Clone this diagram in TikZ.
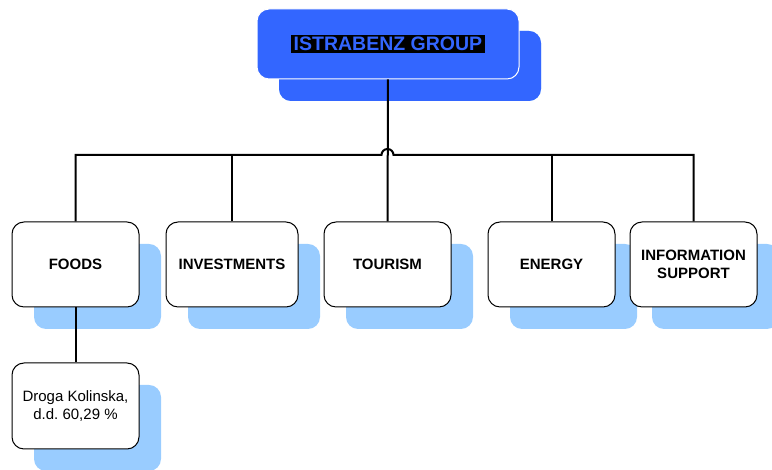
\documentclass[tikz,border=0pt]{standalone}
\usepackage{fontspec}
\setmainfont{Liberation Sans}
\usetikzlibrary{shadows}
\definecolor{groupblue}{HTML}{3366FF}
\definecolor{shadeblue}{HTML}{99CCFF}
\frenchspacing
\begin{document}
\begin{tikzpicture}
    [x=1pt,y=1pt,
     unit/.style={rectangle,rounded corners=12pt,draw=black,line width=1pt,fill=white,
       minimum width=127pt,minimum height=85pt,align=center,inner sep=2pt,
       font=\fontsize{15}{18}\selectfont\bfseries,
       drop shadow={shadow xshift=22pt,shadow yshift=-22pt,fill=shadeblue,opacity=1}},
     top/.style={unit,draw=white,fill=groupblue,minimum width=262pt,minimum height=70pt,
       font=\fontsize{19.5}{22}\selectfont\bfseries,
       drop shadow={shadow xshift=22pt,shadow yshift=-22pt,fill=groupblue,opacity=1}},
     link/.style={draw=black,line width=2pt}]
    \useasboundingbox (0,0) rectangle (772,470);
    \node[top] (group) at (388,426) {\setlength{\fboxsep}{2.5pt}\colorbox{black}{\textcolor{groupblue}{ISTRABENZ GROUP}}};
    \node[unit] (foods) at (75.5,205.5) {FOODS};
    \node[unit,minimum width=132pt] (investments) at (232,205.5) {INVESTMENTS};
    \node[unit] (tourism) at (387.5,205.5) {TOURISM};
    \node[unit] (energy) at (551.5,205.5) {ENERGY};
    \node[unit] (infosupport) at (693.5,205.5) {INFORMATION\\SUPPORT};
    \node[unit,minimum height=86pt,font=\fontsize{15}{18}\selectfont] (droga) at (75.5,64) {Droga Kolinska,\\d.d. 60,29 \%};
    \coordinate (bus) at (0,315);
    \coordinate (hop) at (381.5,315);
    \draw[link] (group) -- (tourism);
    \draw[link] (foods) |- (hop) arc[start angle=180,end angle=0,radius=6pt] -- (infosupport |- bus) -- (infosupport);
    \draw[link] (investments) -- (investments |- bus);
    \draw[link] (energy) -- (energy |- bus);
    \draw[link] (foods) -- (droga);
  \end{tikzpicture}
\end{document}
